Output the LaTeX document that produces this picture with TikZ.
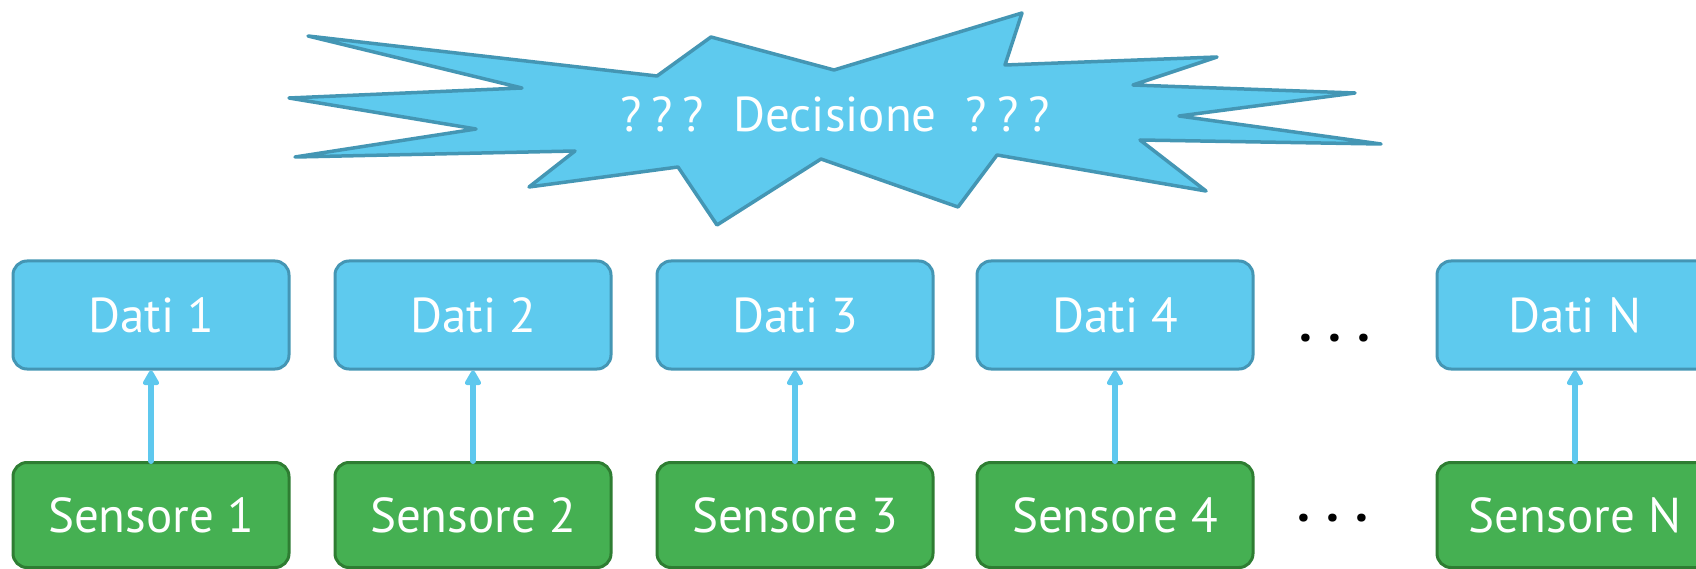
\documentclass[tikz,border=0pt]{standalone}
\usepackage{fontspec}
\setmainfont{PT Sans}
\usetikzlibrary{arrows.meta}

\definecolor{datafill}{RGB}{94,202,238}
\definecolor{dataline}{RGB}{68,150,180}
\definecolor{sensfill}{RGB}{69,176,82}
\definecolor{sensline}{RGB}{46,125,50}
\definecolor{linkcol}{RGB}{94,200,238}

\newcommand{\qgap}{\hspace{10pt}}
\newcommand{\wgap}{\hspace{29pt}}

\begin{document}
\begin{tikzpicture}[x=1pt, y=-1pt,
  boxbase/.style={rounded corners=14pt, line width=3pt, minimum width=276pt,
    inner sep=0pt, text=white, font=\fontsize{49}{58}\selectfont,
    text height=34pt, text depth=0pt},
  databox/.style={boxbase, fill=datafill, draw=dataline, minimum height=108pt},
  sensbox/.style={boxbase, fill=sensfill, draw=sensline, minimum height=105pt},
  link/.style={draw=linkcol, line width=6pt, line cap=round,
    -{Triangle[width=18pt, length=17pt, round=false]}},
  dotsrow/.style={font=\fontsize{52}{58}\bfseries\selectfont, text=black, inner sep=0pt, anchor=base},
  burst/.style={fill=datafill, draw=dataline, line width=3.5pt, line join=round}
]
\useasboundingbox (0,0) rectangle (1696,569);

% decision burst
\draw[burst] (308,36) -- (657,76) -- (711,37) -- (834,70) -- (1022,13) -- (1005,65)
  -- (1217,57) -- (1133,85) -- (1355,93) -- (1179,116) -- (1381,144) -- (1140,140)
  -- (1206,191) -- (997,155) -- (958,207) -- (821,159) -- (717,225) -- (678,167)
  -- (529,187) -- (575,151) -- (295,157) -- (476,129) -- (289,98) -- (522,88) -- cycle;
\node[text=white, font=\fontsize{49}{58}\selectfont, inner sep=0pt,
  text height=34pt, text depth=0pt] (dec) at (835,115)
  {?\qgap?\qgap?\wgap Decisione\wgap ?\qgap?\qgap?};

% data row
\node[databox] (d1) at (151,315) {Dati 1};
\node[databox] (d2) at (473,315) {Dati 2};
\node[databox] (d3) at (795,315) {Dati 3};
\node[databox] (d4) at (1115,315) {Dati 4};
\node[databox] (dn) at (1575,315) {Dati N};

% sensor row
\node[sensbox] (s1) at (151,515) {Sensore 1};
\node[sensbox] (s2) at (473,515) {Sensore 2};
\node[sensbox] (s3) at (795,515) {Sensore 3};
\node[sensbox] (s4) at (1115,515) {Sensore 4};
\node[sensbox] (sn) at (1575,515) {Sensore N};

% ellipses between the last boxes
\node[dotsrow] (dotd) at (1335,341) {.\hspace{16pt}.\hspace{16pt}.};
\node[dotsrow] (dots) at (1333,521) {.\hspace{16pt}.\hspace{16pt}.};

% sensor to data links
\foreach \i in {1,2,3,4,n}{
  \draw[link] (s\i.north) -- (d\i.south);
}
\end{tikzpicture}
\end{document}
